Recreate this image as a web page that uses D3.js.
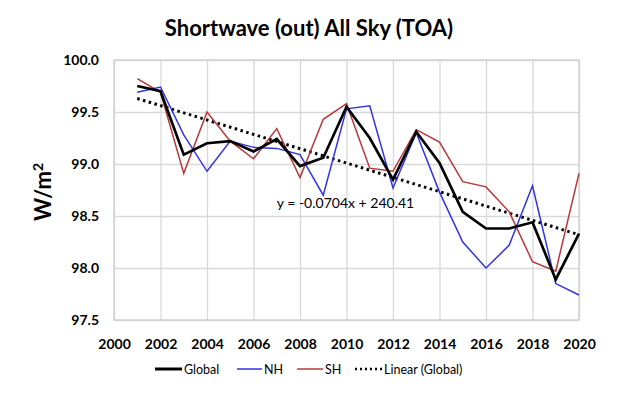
<!DOCTYPE html>
<html>
<head>
<meta charset="utf-8">
<script src="https://cdn.jsdelivr.net/npm/d3@7"></script>
<style>
  body { margin: 0; background: #fff; }
  text { font-family: Lato, "Open Sans", sans-serif; fill: #000; }
</style>
</head>
<body>
<svg class="chart" width="620" height="399"></svg>
<script>
const years = d3.range(2001, 2021);
const globalVals = [99.75, 99.70, 99.09, 99.20, 99.22, 99.12, 99.24, 98.98, 99.06, 99.55,
                    99.25, 98.85, 99.31, 99.01, 98.54, 98.38, 98.38, 98.44, 97.89, 98.33];
const nhVals = [99.69, 99.74, 99.28, 98.93, 99.22, 99.16, 99.15, 99.09, 98.70, 99.53,
                99.56, 98.77, 99.30, 98.73, 98.25, 98.00, 98.22, 98.79, 97.85, 97.74];
const shVals = [99.82, 99.69, 98.91, 99.50, 99.22, 99.05, 99.34, 98.87, 99.43, 99.58,
                98.96, 98.93, 99.33, 99.21, 98.83, 98.78, 98.54, 98.06, 97.97, 98.91];
// end points of the drawn trend line
const trendYears = [2001, 2020];
const trendVals = [99.63, 98.32];
const xTicks = d3.range(2000, 2021, 2);
const yTicks = [97.5, 98.0, 98.5, 99.0, 99.5, 100.0];

const svg = d3.select(".chart");
const width = 620;
const height = 399;
const margin = { top: 60, right: 41, bottom: 79, left: 114 };
const graphWidth = width - margin.left - margin.right;
const graphHeight = height - margin.top - margin.bottom;

const xScale = d3.scaleLinear().domain([2000, 2020]).range([0, graphWidth]);
const yScale = d3.scaleLinear().domain([97.5, 100]).range([graphHeight, 0]);

const graph = svg.append("g")
  .attr("transform", `translate(${margin.left}, ${margin.top})`);

// grid
graph.append("g")
  .call(d3.axisBottom(xScale).tickValues(xTicks).tickSize(-graphHeight).tickFormat(""))
  .attr("transform", `translate(0, ${graphHeight})`)
  .call(g => g.select(".domain").remove())
  .selectAll("line").attr("stroke", "#d9d9d9").attr("stroke-width", 1.3);

graph.append("g")
  .call(d3.axisLeft(yScale).tickValues(yTicks).tickSize(-graphWidth).tickFormat(""))
  .call(g => g.select(".domain").remove())
  .selectAll("line").attr("stroke", "#d9d9d9").attr("stroke-width", 1.3);

graph.append("rect")
  .attr("width", graphWidth)
  .attr("height", graphHeight)
  .attr("fill", "none")
  .attr("stroke", "#d0d0d0")
  .attr("stroke-width", 1.3);

// tick labels
const xAxisG = graph.append("g")
  .attr("transform", `translate(0, ${graphHeight})`)
  .call(d3.axisBottom(xScale).tickValues(xTicks).tickSize(0).tickPadding(19).tickFormat(d3.format("d")));
xAxisG.select(".domain").remove();
xAxisG.selectAll("text")
  .style("font-family", "Lato, sans-serif")
  .style("font-size", "14px")
  .style("font-weight", "bold")
  .attr("fill", "#000");

const yAxisG = graph.append("g")
  .call(d3.axisLeft(yScale).tickValues(yTicks).tickSize(0).tickPadding(15).tickFormat(d3.format(".1f")));
yAxisG.select(".domain").remove();
yAxisG.selectAll("text")
  .style("font-family", "Lato, sans-serif")
  .style("font-size", "14px")
  .style("font-weight", "bold")
  .attr("fill", "#000");

// series
const line = d3.line()
  .x((d, i) => xScale(years[i]))
  .y(d => yScale(d));

const trendLine = d3.line()
  .x((d, i) => xScale(trendYears[i]))
  .y(d => yScale(d));

graph.append("path")
  .attr("d", trendLine(trendVals))
  .attr("fill", "none")
  .attr("stroke", "#000")
  .attr("stroke-width", 3)
  .attr("stroke-dasharray", "2.5,3.5");

graph.append("path")
  .attr("d", line(shVals))
  .attr("fill", "none")
  .attr("stroke", "#b7373a")
  .attr("stroke-width", 1.5);

graph.append("path")
  .attr("d", line(nhVals))
  .attr("fill", "none")
  .attr("stroke", "#3333e6")
  .attr("stroke-width", 1.5);

graph.append("path")
  .attr("d", line(globalVals))
  .attr("fill", "none")
  .attr("stroke", "#000")
  .attr("stroke-width", 2.7);

graph.append("text")
  .attr("x", xScale(2007.0))
  .attr("y", yScale(98.58))
  .text("y = -0.0704x + 240.41")
  .style("font-size", "14px")
  .attr("fill", "#333");

// title
svg.append("text")
  .attr("x", 309)
  .attr("y", 36)
  .attr("text-anchor", "middle")
  .text("Shortwave (out) All Sky (TOA)")
  .style("font-size", "22px")
  .style("font-weight", "bold");

// y axis label
svg.append("text")
  .attr("transform", "translate(51, 192) rotate(-90)")
  .attr("text-anchor", "middle")
  .style("font-size", "22px")
  .style("font-weight", "bold")
  .html("W/m<tspan dy='-8' font-size='14px'>2</tspan>");

// legend
const legendItems = [
  { name: "Global", color: "#000", width: 3, dash: null, x0: 155, x1: 182 },
  { name: "NH", color: "#3333e6", width: 1.5, dash: null, x0: 237, x1: 262 },
  { name: "SH", color: "#b7373a", width: 1.5, dash: null, x0: 297, x1: 323 },
  { name: "Linear (Global)", color: "#000", width: 2.5, dash: "2,3", x0: 355, x1: 382 }
];
const legendY = 369;
const legend = svg.append("g");
legendItems.forEach(item => {
  legend.append("line")
    .attr("x1", item.x0).attr("x2", item.x1)
    .attr("y1", legendY).attr("y2", legendY)
    .attr("stroke", item.color)
    .attr("stroke-width", item.width)
    .attr("stroke-dasharray", item.dash);
  legend.append("text")
    .attr("x", item.x1 + 2)
    .attr("y", legendY + 4.5)
    .text(item.name)
    .style("font-size", "12.5px")
    .attr("fill", "#333");
});
</script>
</body>
</html>
